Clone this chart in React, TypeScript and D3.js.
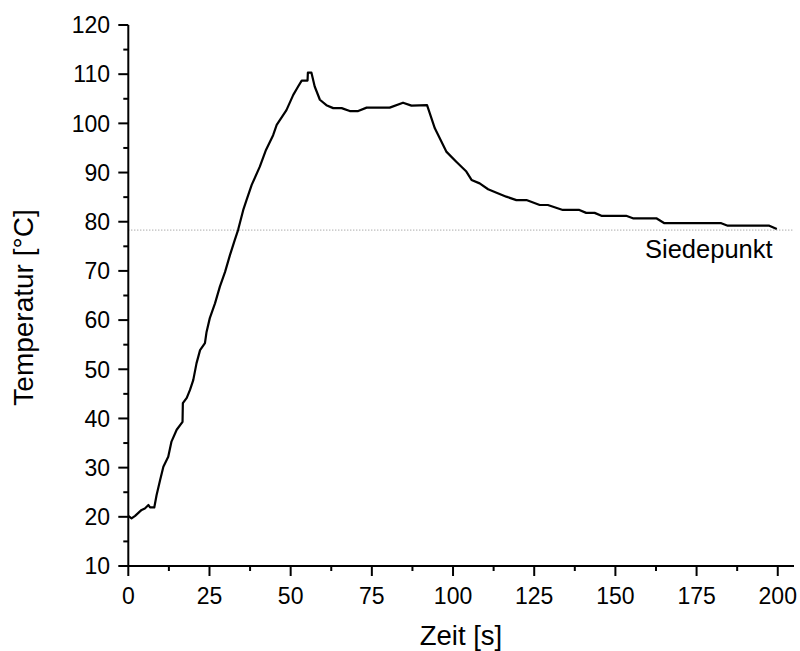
import React from "react";
import * as d3 from "d3";

const timeS = [0, 1.0, 2.1, 3.1, 4.1, 5.1, 6.2, 6.7, 8.0, 8.7, 9.8, 10.8, 12.3, 13.3, 14.9, 16.7, 16.8, 18.0, 19.0, 20.0, 21.0, 22.1, 23.6, 24.1, 25.1, 26.7, 28.2, 29.8, 31.3, 32.8, 33.8, 35.4, 36.4, 38.0, 40.5, 42.4, 44.6, 45.7, 48.7, 50.8, 52.3, 53.4, 55.2, 55.3, 56.4, 57.4, 59.0, 61.0, 63.1, 65.7, 68.2, 70.8, 73.4, 80.5, 84.6, 87.2, 92.0, 94.4, 98.0, 101.0, 104.1, 105.7, 108.2, 110.8, 113.4, 116.4, 119.5, 122.6, 126.7, 129.2, 133.8, 138.9, 141.0, 143.6, 145.7, 153.3, 155.4, 162.6, 165.1, 182.6, 184.6, 197.4, 199.7];
const tempC = [20.2, 19.7, 20.2, 20.8, 21.4, 21.7, 22.4, 21.9, 21.9, 24.4, 27.5, 30.2, 32.2, 35.3, 37.7, 39.3, 43.1, 44.2, 45.8, 47.8, 51.2, 53.9, 55.3, 57.6, 60.4, 63.4, 66.8, 69.8, 73.2, 76.3, 78.3, 82.4, 84.4, 87.5, 91.2, 94.6, 97.6, 99.7, 102.7, 105.8, 107.5, 108.7, 108.7, 110.3, 110.3, 107.5, 104.8, 103.7, 103.1, 103.1, 102.5, 102.5, 103.2, 103.2, 104.2, 103.6, 103.7, 99.0, 94.2, 92.2, 90.2, 88.5, 87.8, 86.6, 85.9, 85.1, 84.4, 84.4, 83.4, 83.4, 82.4, 82.4, 81.8, 81.8, 81.2, 81.2, 80.7, 80.7, 79.7, 79.7, 79.2, 79.2, 78.5];

const xTicks = [0, 25, 50, 75, 100, 125, 150, 175, 200];
const xMinorTicks = [12.5, 37.5, 62.5, 87.5, 112.5, 137.5, 162.5, 187.5];
const yTicks = [10, 20, 30, 40, 50, 60, 70, 80, 90, 100, 110, 120];
const yMinorTicks = [15, 25, 35, 45, 55, 65, 75, 85, 95, 105, 115];
const boilingPoint = 78.3;
const boilingLabel = "Siedepunkt";
const xTitle = "Zeit [s]";
const yTitle = "Temperatur [°C]";

const W = 800;
const H = 651;
const FONT = "'Liberation Sans', Arial, sans-serif";

export default function App() {
  const x = d3.scaleLinear().domain([0, 205]).range([128.3, 794]);
  const y = d3.scaleLinear().domain([10, 120]).range([566, 25]);
  const pts: [number, number][] = timeS.map((t, i) => [t, tempC[i]]);
  const line = d3
    .line<[number, number]>()
    .x((d) => x(d[0]))
    .y((d) => y(d[1]));
  const x0 = x(0);
  const y0 = y(10);

  return (
    <svg
      width={W}
      height={H}
      style={{ position: "absolute", left: 0, top: 0, background: "#fff" }}
      fontFamily={FONT}
    >
      <rect x={0} y={0} width={W} height={H} fill="#fff" />
      <line
        x1={x0}
        x2={x(205)}
        y1={y(boilingPoint)}
        y2={y(boilingPoint)}
        stroke="#888"
        strokeWidth={1}
        strokeDasharray="1,2"
      />
      <text x={645} y={258} fontSize={25.5} fill="#000">
        {boilingLabel}
      </text>
      <path d={line(pts) || ""} fill="none" stroke="#000" strokeWidth={2.2} strokeLinejoin="round" />
      <line x1={x0} x2={x(205)} y1={y0} y2={y0} stroke="#000" strokeWidth={2} />
      <line x1={x0} x2={x0} y1={y0 + 1} y2={y(120)} stroke="#000" strokeWidth={2} />
      {xTicks.map((t) => (
        <g key={"xt" + t}>
          <line x1={x(t)} x2={x(t)} y1={y0} y2={y0 + 10} stroke="#000" strokeWidth={2} />
          <text x={x(t)} y={604} fontSize={23} textAnchor="middle" fill="#000">
            {t}
          </text>
        </g>
      ))}
      {xMinorTicks.map((t) => (
        <line key={"xm" + t} x1={x(t)} x2={x(t)} y1={y0} y2={y0 + 5} stroke="#000" strokeWidth={2} />
      ))}
      {yTicks.map((t) => (
        <g key={"yt" + t}>
          <line x1={x0 - 10} x2={x0} y1={y(t)} y2={y(t)} stroke="#000" strokeWidth={2} />
          <text x={110} y={y(t)} dy="0.36em" fontSize={23} textAnchor="end" fill="#000">
            {t}
          </text>
        </g>
      ))}
      {yMinorTicks.map((t) => (
        <line key={"ym" + t} x1={x0 - 5} x2={x0} y1={y(t)} y2={y(t)} stroke="#000" strokeWidth={2} />
      ))}
      <text x={461} y={645} fontSize={27.5} textAnchor="middle" fill="#000">
        {xTitle}
      </text>
      <text
        transform={`translate(33.3, 307.5) rotate(-90)`}
        fontSize={28}
        textAnchor="middle"
        fill="#000"
      >
        {yTitle}
      </text>
    </svg>
  );
}
